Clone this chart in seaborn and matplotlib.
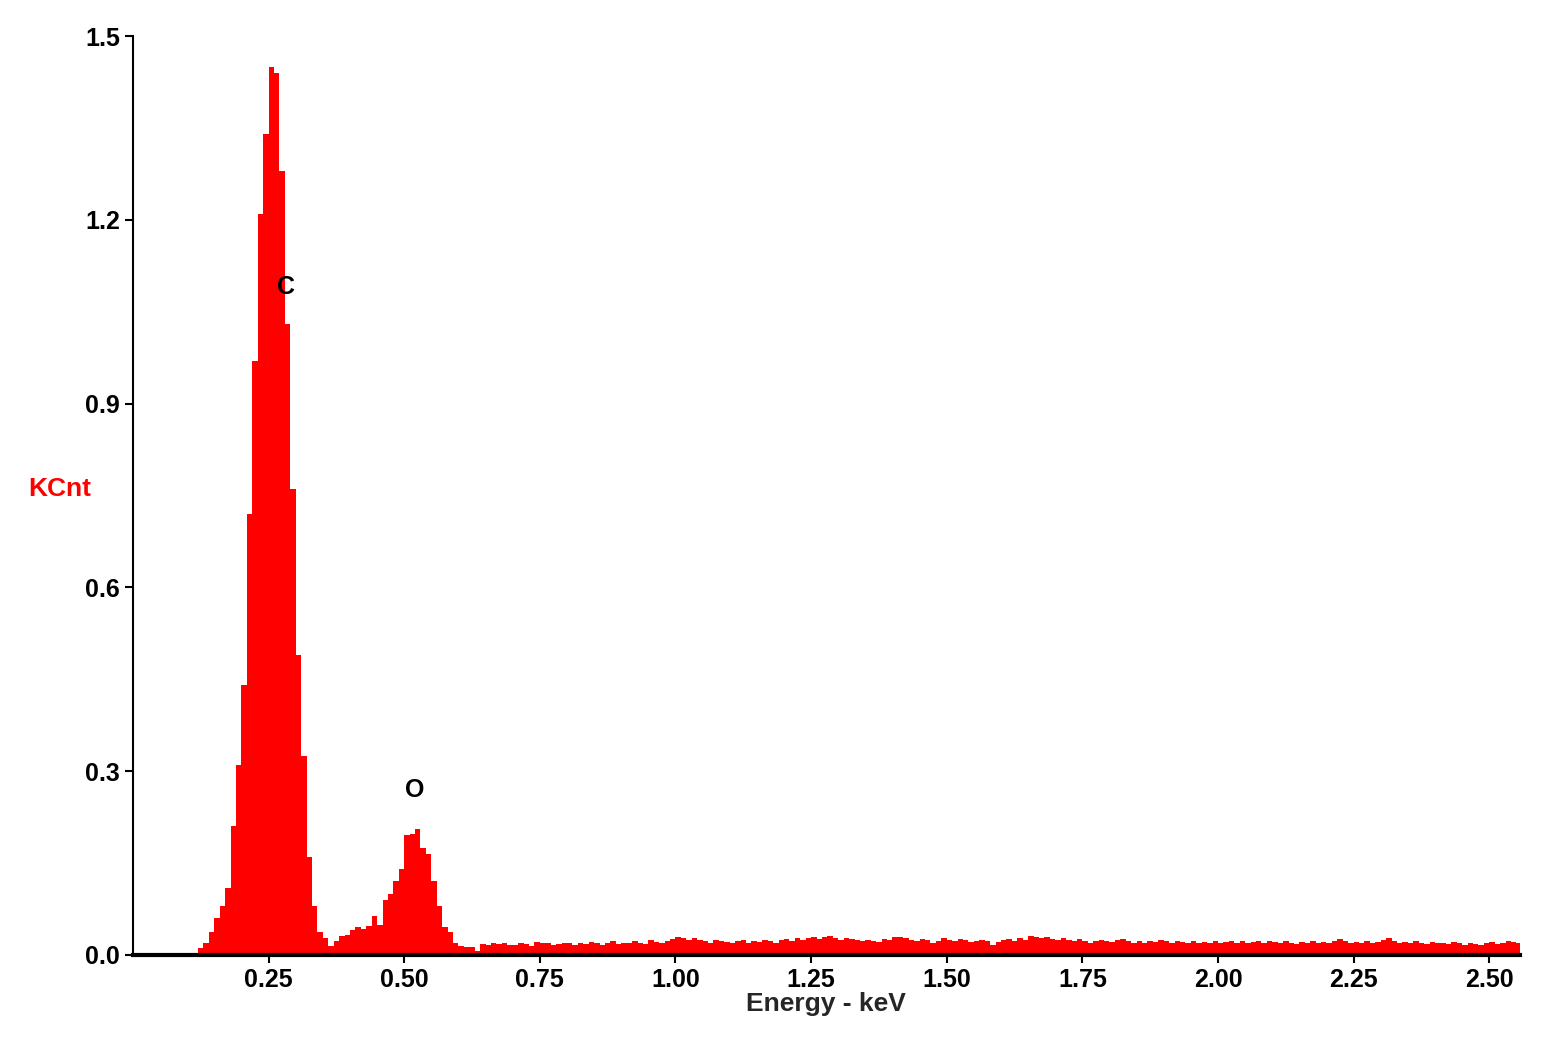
import matplotlib
matplotlib.use("Agg")
import matplotlib.pyplot as plt
import numpy as np
import seaborn as sns

# channel width 0.01 keV, counts in KCnt
CHANNEL_KEV = 0.01
low_counts = [0.0] * 12
c_peak = [0.011, 0.02, 0.037, 0.06, 0.08, 0.11, 0.21, 0.31, 0.44, 0.72,
          0.97, 1.21, 1.34, 1.45, 1.44, 1.28, 1.03, 0.76, 0.49, 0.325]
o_region = [0.16, 0.08, 0.037, 0.028, 0.015, 0.023, 0.031, 0.033, 0.04, 0.046,
            0.042, 0.047, 0.064, 0.049, 0.09, 0.10, 0.12, 0.14, 0.196, 0.198,
            0.206, 0.175, 0.165, 0.12, 0.08, 0.046, 0.037, 0.02, 0.015, 0.013,
            0.013, 0.006, 0.018]
background = [
    0.016, 0.02, 0.018, 0.02, 0.017, 0.016, 0.02, 0.018, 0.015, 0.021,
    0.019, 0.02, 0.017, 0.018, 0.02, 0.019, 0.016, 0.02, 0.018, 0.021,
    0.019, 0.017, 0.02, 0.022, 0.018, 0.02, 0.019, 0.023, 0.02, 0.018,
    0.024, 0.021, 0.02, 0.022, 0.026, 0.03, 0.027, 0.025, 0.028, 0.024,
    0.022, 0.02, 0.025, 0.023, 0.021, 0.019, 0.022, 0.024, 0.02, 0.023,
    0.021, 0.025, 0.022, 0.02, 0.024, 0.026, 0.023, 0.027, 0.025, 0.028,
    0.03, 0.026, 0.029, 0.031, 0.027, 0.025, 0.028, 0.026, 0.024, 0.022,
    0.025, 0.023, 0.021, 0.026, 0.024, 0.029, 0.03, 0.027, 0.025, 0.023,
    0.026, 0.024, 0.02, 0.023, 0.027, 0.025, 0.022, 0.026, 0.024, 0.021,
    0.023, 0.025, 0.022, 0.016, 0.021, 0.024, 0.026, 0.023, 0.028, 0.025,
    0.031, 0.029, 0.027, 0.03, 0.026, 0.025, 0.027, 0.024, 0.022, 0.026,
    0.023, 0.02, 0.022, 0.025, 0.023, 0.021, 0.024, 0.026, 0.023, 0.02,
    0.022, 0.019, 0.023, 0.021, 0.024, 0.022, 0.02, 0.023, 0.021, 0.019,
    0.022, 0.02, 0.021, 0.019, 0.022, 0.02, 0.021, 0.023, 0.02, 0.022,
    0.019, 0.021, 0.023, 0.02, 0.022, 0.021, 0.019, 0.022, 0.02, 0.018,
    0.021, 0.02, 0.022, 0.019, 0.021, 0.02, 0.023, 0.026, 0.022, 0.02,
    0.021, 0.019, 0.022, 0.02, 0.021, 0.024, 0.027, 0.022, 0.02, 0.021,
    0.019, 0.022, 0.02, 0.018, 0.021, 0.019, 0.02, 0.018, 0.021, 0.019,
    0.017, 0.02, 0.018, 0.016, 0.02, 0.021, 0.018, 0.019, 0.022, 0.021,
    0.02,
]
counts = low_counts + c_peak + o_region + background
energies = [CHANNEL_KEV * (i + 0.5) for i in range(len(counts))]
edges = [CHANNEL_KEV * i for i in range(len(counts) + 1)]

peak_labels = ["C", "O"]
peak_label_x = [0.282, 0.52]
peak_label_y = [1.09, 0.27]

sns.set_theme(style="white")
plt.rcParams["font.family"] = ["Liberation Sans", "DejaVu Sans"]

fig = plt.figure(figsize=(15.57, 10.62), dpi=100)
ax = fig.add_axes([0.0854, 0.1008, 0.8906, 0.8653])
sns.histplot(x=energies, weights=counts, bins=edges, color="#ff0000",
             alpha=1, linewidth=0, ax=ax)

for lab, lx, ly in zip(peak_labels, peak_label_x, peak_label_y):
    ax.text(lx, ly, lab, ha="center", va="center", fontsize=18,
            fontweight="bold", color="black")

ax.set_xlim(0, 2.556)
ax.set_ylim(0, 1.5)
ax.set_xticks([0.25, 0.5, 0.75, 1.0, 1.25, 1.5, 1.75, 2.0, 2.25, 2.5])
ax.set_xticklabels([f"{v:.2f}" for v in ax.get_xticks()])
ax.set_yticks([0.0, 0.3, 0.6, 0.9, 1.2, 1.5])
ax.set_yticklabels([f"{v:.1f}" for v in ax.get_yticks()])
ax.tick_params(axis="both", direction="out", length=6, width=1.5,
               labelsize=18, colors="black", bottom=True, left=True)
for t in ax.get_xticklabels() + ax.get_yticklabels():
    t.set_fontweight("bold")
for s in ["top", "right"]:
    ax.spines[s].set_visible(False)
for s in ["left", "bottom"]:
    ax.spines[s].set_color("black")
ax.spines["left"].set_linewidth(1.5)
ax.spines["bottom"].set_linewidth(3)

ax.set_xlabel("Energy - keV", fontsize=19, fontweight="bold", labelpad=0)
ax.set_ylabel("")
ax.text(-0.03, 0.76, "KCnt", transform=ax.get_yaxis_transform(), ha="right",
        va="center", fontsize=19, fontweight="bold", color="#ff0000")

fig.savefig("out.png", dpi=100)
